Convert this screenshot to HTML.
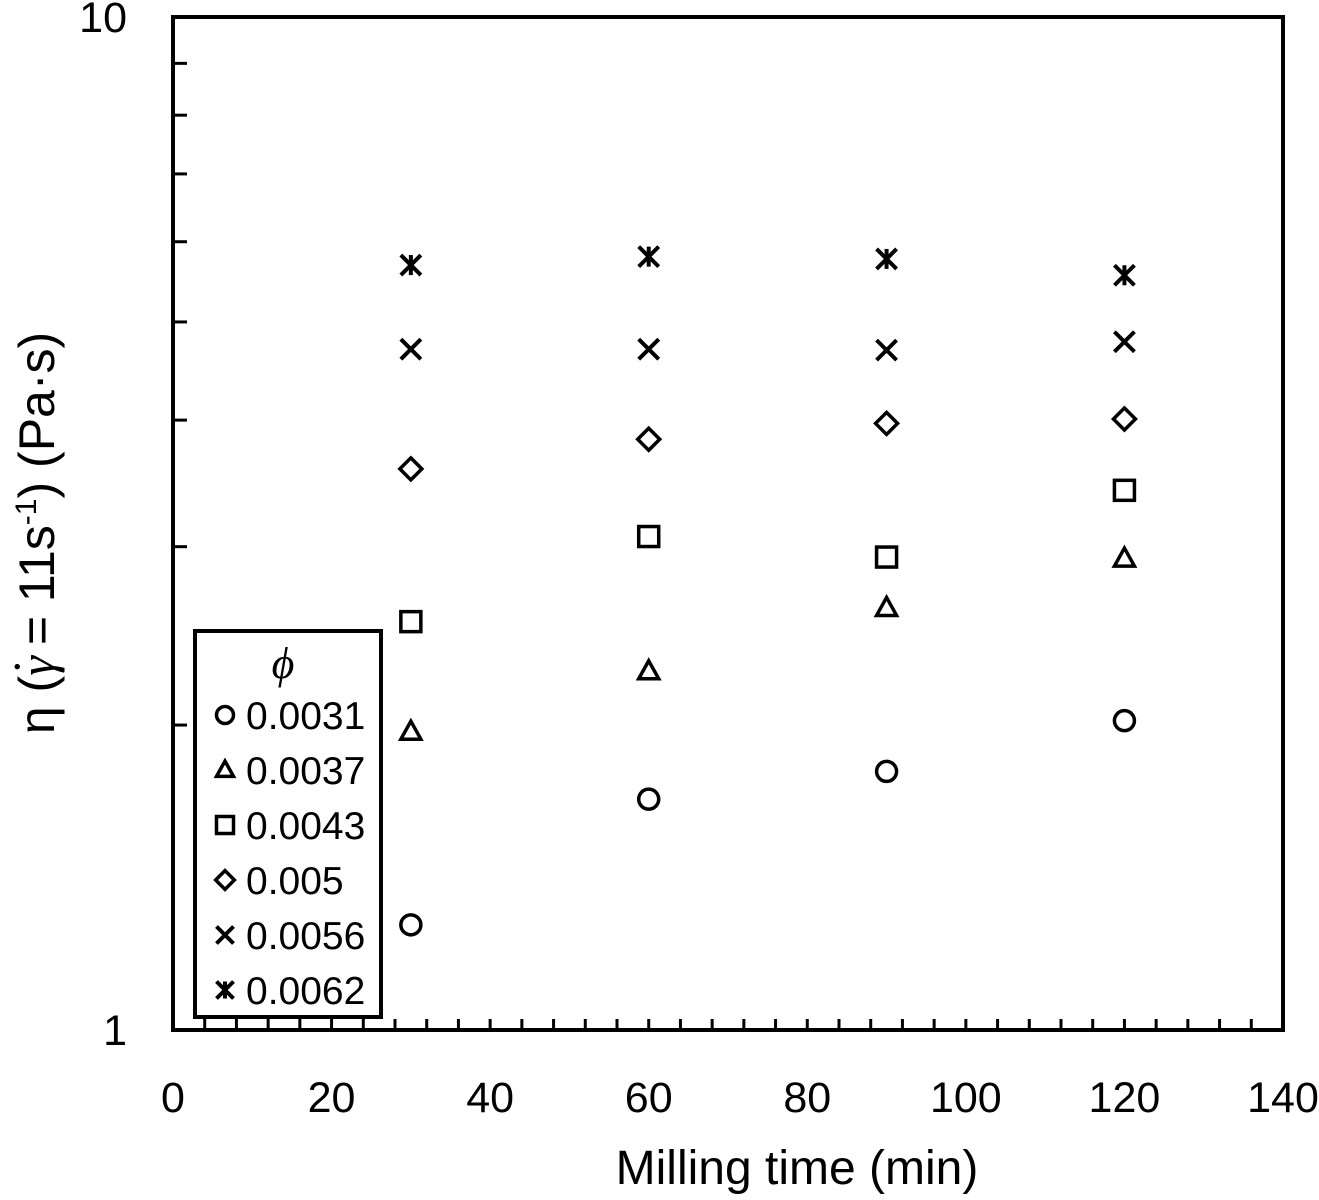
<!DOCTYPE html>
<html><head><meta charset="utf-8"><style>
body{margin:0;background:#fff;}
svg{display:block;font-family:"Liberation Sans",sans-serif;}
</style></head><body>
<svg id="chart" width="1319" height="1200" viewBox="0 0 1319 1200">
<g id="ticks"></g>
<rect x="173" y="17" width="1110" height="1013" fill="none" stroke="#000" stroke-width="4"/>
<g id="labels" font-size="43"></g>
<g id="marks"></g>
<text x="797" y="1184" font-size="48" text-anchor="middle">Milling time (min)</text>
<text transform="translate(54,533) rotate(-90)" font-size="50" text-anchor="middle">η (<tspan font-family="Liberation Serif" font-style="italic">γ</tspan><tspan font-size="20" dx="-14" dy="-30">•</tspan><tspan dx="4" dy="30"> = 11s</tspan><tspan font-size="30" dy="-18">-1</tspan><tspan dy="18">) (Pa·s)</tspan></text>
<g>
<rect x="195" y="631" width="186" height="386" fill="#fff" stroke="#000" stroke-width="4"/>
<text x="283" y="678" font-size="44" font-style="italic" font-family="Liberation Serif" text-anchor="middle">ϕ</text>
<g id="legend"></g>
</g>
</svg>
<script>
const categories=[30,60,90,120];
const seriesNames=["0.0031","0.0037","0.0043","0.005","0.0056","0.0062"];
const seriesMarkers=["circle","triangle","square","diamond","x","star"];
const s0031=[1.27,1.69,1.80,2.02];
const s0037=[1.97,2.26,2.61,2.92];
const s0043=[2.53,3.07,2.93,3.41];
const s005=[3.58,3.83,3.97,4.01];
const s0056=[4.70,4.70,4.69,4.78];
const s0062=[5.69,5.80,5.77,5.56];
const seriesValues=[s0031,s0037,s0043,s005,s0056,s0062];
const xTicks=[0,20,40,60,80,100,120,140];
const yTicks=[1,10];
const NS="http://www.w3.org/2000/svg";
const X=v=>173+v*(1110/140);
const Y=v=>1030-Math.log10(v)*1013;
function el(tag,attrs,parent){const e=document.createElementNS(NS,tag);for(const k in attrs)e.setAttribute(k,attrs[k]);parent.appendChild(e);return e;}
const ticks=document.getElementById('ticks'),labels=document.getElementById('labels'),marks=document.getElementById('marks'),leg=document.getElementById('legend');
for(let m=4;m<140;m+=4){const l=el('line',{x1:X(m),x2:X(m),y1:1030,y2:1019,stroke:'#000','stroke-width':3},ticks);

}
for(let v=2;v<10;v++){const l=el('line',{x1:173,x2:187,y1:Y(v),y2:Y(v),stroke:'#000','stroke-width':3},ticks);

}
xTicks.forEach(t=>{const e=el('text',{x:X(t),y:1112,'text-anchor':'middle'},labels);e.textContent=t;

});
yTicks.forEach(t=>{const e=el('text',{x:127,y:Y(t)+15,'text-anchor':'end'},labels);e.textContent=t;

});
function marker(type,cx,cy,r,parent){
 const g=el('g',{fill:'none',stroke:'#000','stroke-width':3.5},parent);
 if(type==='circle')el('circle',{cx:cx,cy:cy,r:r},g);
 else if(type==='triangle')el('polygon',{points:`${cx},${cy-r*1.05} ${cx+r},${cy+r*0.75} ${cx-r},${cy+r*0.75}`},g);
 else if(type==='square')el('rect',{x:cx-r,y:cy-r,width:2*r,height:2*r},g);
 else if(type==='diamond')el('polygon',{points:`${cx},${cy-r*1.1} ${cx+r*1.1},${cy} ${cx},${cy+r*1.1} ${cx-r*1.1},${cy}`},g);
 else{el('path',{d:`M${cx-r} ${cy-r}L${cx+r} ${cy+r}M${cx+r} ${cy-r}L${cx-r} ${cy+r}`,'stroke-width':4},g);
  if(type==='star')el('path',{d:`M${cx} ${cy-r}L${cx} ${cy+r}`,'stroke-width':4},g);}
 return g;}
seriesValues.forEach((vals,si)=>{vals.forEach((v,i)=>{const g=marker(seriesMarkers[si],X(categories[i]),Y(v),10,marks);

});});
seriesNames.forEach((n,i)=>{const y=715+i*55;
const g=marker(seriesMarkers[i],225,y,8.5,leg);


const t=el('text',{x:246,y:y+14,'font-size':39},leg);t.textContent=n;

});
</script>
</body></html>
